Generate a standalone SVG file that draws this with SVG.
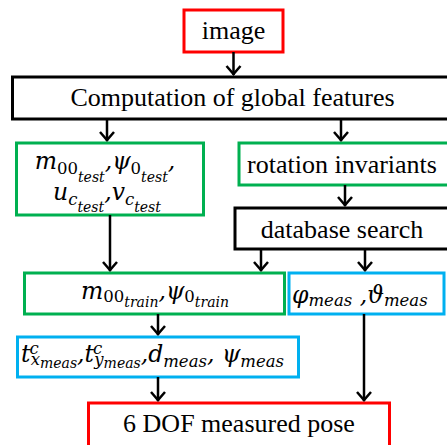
<svg xmlns="http://www.w3.org/2000/svg" width="447" height="445" viewBox="0 0 447 445">
  <style>
    .box { fill: #ffffff; stroke-width: 3; }
    .red { stroke: #ff0000; }
    .blk { stroke: #000000; }
    .grn { stroke: #00b050; }
    .blu { stroke: #00b0f0; }
    .lbl { font-family: "Liberation Serif", "Times New Roman", serif; font-size: 26px; fill: #000; text-anchor: middle; }
    .math { font-family: "DejaVu Serif", "Liberation Serif", serif; font-style: italic; font-size: 23.5px; fill: #000; }
    .up { font-style: normal; }
    .s1 { font-size: 16.5px; }
    .s2 { font-size: 14px; }
    .conn line { stroke: #000; stroke-width: 2.5; }
    .conn path { fill: none; stroke: #000; stroke-width: 2.5; }
  </style>

  <!-- nodes -->
  <g id="image">
    <rect class="box red" x="184" y="10" width="99" height="42"/>
    <text class="lbl" x="233.5" y="39">image</text>
  </g>
  <g id="global-features">
    <rect class="box blk" x="12.5" y="77" width="440" height="42"/>
    <text class="lbl" x="232.5" y="106">Computation of global features</text>
  </g>
  <g id="test-features">
    <rect class="box grn" x="16.5" y="143" width="187" height="72"/>
    <text class="math" x="105" y="169" text-anchor="middle">m<tspan class="up s1" dy="5">00</tspan><tspan class="s2" dy="8">test</tspan><tspan dy="-13">,ψ</tspan><tspan class="up s1" dy="5">0</tspan><tspan class="s2" dy="8">test</tspan><tspan dy="-13">,</tspan></text>
    <text class="math" x="107" y="200" text-anchor="middle">u<tspan class="s1" dy="5">c</tspan><tspan class="s2" dy="7">test</tspan><tspan dy="-12">,v</tspan><tspan class="s1" dy="5">c</tspan><tspan class="s2" dy="7">test</tspan></text>
  </g>
  <g id="rotation-invariants">
    <rect class="box grn" x="239" y="143" width="220" height="42"/>
    <text class="lbl" x="342" y="173">rotation invariants</text>
  </g>
  <g id="database-search">
    <rect class="box blk" x="235" y="208" width="220" height="41"/>
    <text class="lbl" x="342" y="238">database search</text>
  </g>
  <g id="train-features">
    <rect class="box grn" x="24.5" y="273" width="260" height="41"/>
    <text class="math" x="155" y="299" text-anchor="middle">m<tspan class="up s1" dy="3">00</tspan><tspan class="s2" dy="5">train</tspan><tspan dy="-8">,ψ</tspan><tspan class="up s1" dy="3">0</tspan><tspan class="s2" dy="5">train</tspan></text>
  </g>
  <g id="orientation">
    <rect class="box blu" x="289" y="273" width="155" height="41"/>
    <text class="math" x="292" y="303">φ<tspan class="s1" dy="3">meas</tspan><tspan dy="-3">  ,ϑ</tspan><tspan class="s1" dy="3">meas</tspan></text>
  </g>
  <g id="translation">
    <rect class="box blu" x="17.5" y="337" width="281" height="40"/>
    <text class="math" x="21" y="362">t<tspan class="s1" dx="-1" dy="-8">c</tspan><tspan class="s1" dx="-8" dy="11">x</tspan><tspan class="s2" dy="3">meas</tspan><tspan dy="-6">,t</tspan><tspan class="s1" dx="-1" dy="-8">c</tspan><tspan class="s1" dx="-8" dy="11">y</tspan><tspan class="s2" dy="3">meas</tspan><tspan dy="-6">,d</tspan><tspan class="s1" dy="5">meas</tspan><tspan dy="-5">, ψ</tspan><tspan class="s1" dy="5">meas</tspan></text>
  </g>
  <g id="pose">
    <rect class="box red" x="88.5" y="403" width="301" height="50"/>
    <text class="lbl" x="239" y="432">6 DOF measured pose</text>
  </g>

  <!-- connectors -->
  <g class="conn">
    <line x1="233.5" y1="52" x2="233.5" y2="75"/>
    <path d="M226.5 66 L233.5 74 L240.5 66"/>
    <line x1="107" y1="119" x2="107" y2="141"/>
    <path d="M100 132 L107 140 L114 132"/>
    <line x1="341" y1="119" x2="341" y2="141"/>
    <path d="M334 132 L341 140 L348 132"/>
    <line x1="345" y1="185" x2="345" y2="206"/>
    <path d="M338 197 L345 205 L352 197"/>
    <line x1="110" y1="215" x2="110" y2="271"/>
    <path d="M103 262 L110 270 L117 262"/>
    <line x1="261" y1="249" x2="261" y2="271"/>
    <path d="M254 262 L261 270 L268 262"/>
    <line x1="365" y1="249" x2="365" y2="271"/>
    <path d="M358 262 L365 270 L372 262"/>
    <line x1="158" y1="314" x2="158" y2="335"/>
    <path d="M151 326 L158 334 L165 326"/>
    <line x1="364" y1="314" x2="364" y2="401"/>
    <path d="M357 392 L364 400 L371 392"/>
    <line x1="158" y1="377" x2="158" y2="401"/>
    <path d="M151 392 L158 400 L165 392"/>
  </g>
</svg>
